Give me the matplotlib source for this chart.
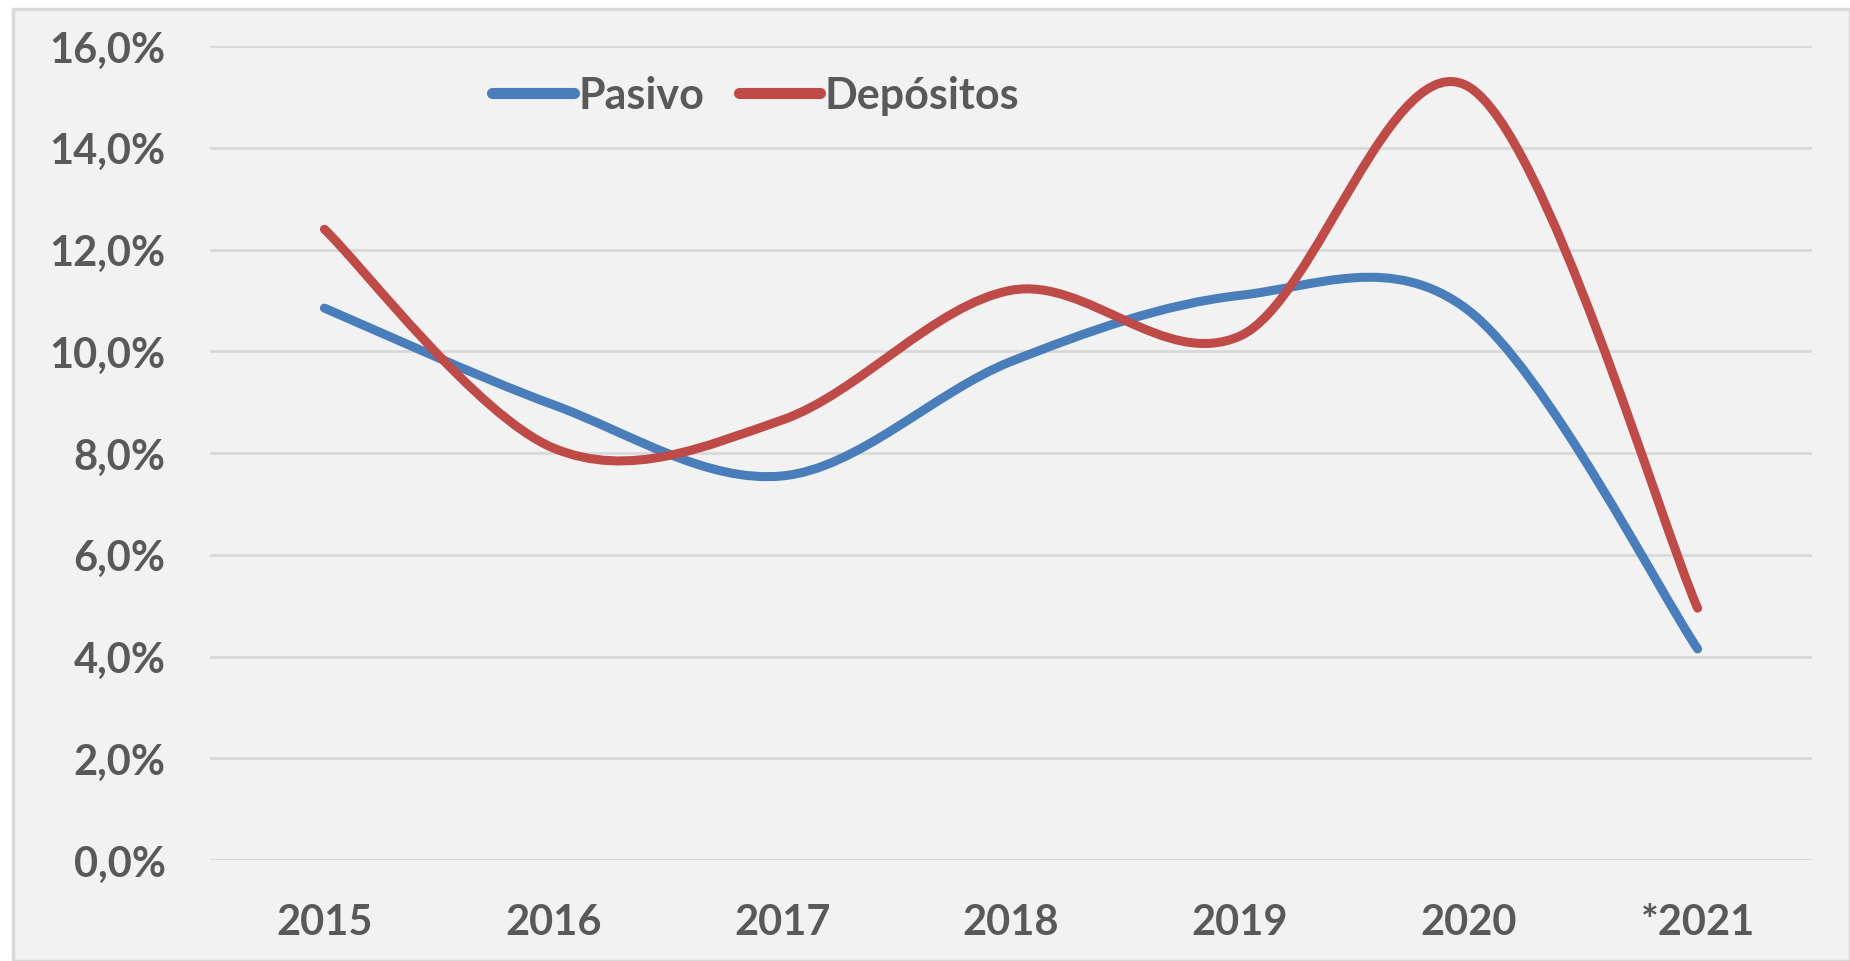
import numpy as np
import matplotlib.pyplot as plt
from matplotlib.path import Path
from matplotlib.patches import PathPatch, Rectangle
from matplotlib.lines import Line2D

years = ['2015', '2016', '2017', '2018', '2019', '2020', '*2021']
pasivo = [10.85, 8.95, 7.55, 9.8, 11.1, 10.8, 4.15]
depositos = [12.4, 8.1, 8.65, 11.2, 10.3, 15.2, 4.95]

plt.rcParams['font.family'] = ['Lato', 'DejaVu Sans']

text_color = '#595959'
blue = '#4a7ebb'
red = '#be4b48'


def smooth_path(xs, ys):
    # Excel-style smoothed line: cubic Bezier through every point
    pts = np.column_stack([xs, ys])
    verts = [pts[0]]
    codes = [Path.MOVETO]
    n = len(pts)
    for i in range(n - 1):
        p0 = pts[max(i - 1, 0)]
        p1 = pts[i]
        p2 = pts[i + 1]
        p3 = pts[min(i + 2, n - 1)]
        c1 = p1 + (p2 - p0) / 6.0
        c2 = p2 - (p3 - p1) / 6.0
        verts += [c1, c2, p2]
        codes += [Path.CURVE4] * 3
    return Path(verts, codes)


fig = plt.figure(figsize=(18.5, 9.62), dpi=100)
fig.patches.append(Rectangle((0.007, 0), 0.993, 0.99, transform=fig.transFigure,
                             facecolor='#f2f2f2', edgecolor='#d9d9d9', lw=2.5,
                             zorder=-10))
ax = fig.add_axes([0.1135, 0.105, 0.866, 0.846])
ax.set_facecolor('none')

x = np.arange(len(years))
for vals, col in [(pasivo, blue), (depositos, red)]:
    ax.add_patch(PathPatch(smooth_path(x, vals), facecolor='none', edgecolor=col,
                           lw=6.5, capstyle='round', joinstyle='round'))

ax.set_xlim(-0.5, len(years) - 0.5)
ax.set_ylim(0, 16)
ax.set_yticks(np.arange(0, 17, 2))
ax.set_yticklabels([f'{v:.1f}%'.replace('.', ',') for v in np.arange(0, 17, 2)])
ax.set_xticks(x)
ax.set_xticklabels(years)
ax.grid(axis='y', color='#d9d9d9', lw=2)
ax.set_axisbelow(True)
for s in ax.spines.values():
    s.set_visible(False)
ax.tick_params(length=0, labelsize=30, labelcolor=text_color)
ax.tick_params(axis='y', pad=32)
ax.tick_params(axis='x', pad=31)
for t in ax.get_xticklabels() + ax.get_yticklabels():
    t.set_fontweight('bold')

handles = [Line2D([], [], color=blue, lw=8, solid_capstyle='round'),
           Line2D([], [], color=red, lw=8, solid_capstyle='round')]
leg = ax.legend(handles, ['Pasivo', 'Depósitos'], loc='center left',
                bbox_to_anchor=(0.152, 0.94), ncol=2, frameon=False,
                handlelength=1.9, handletextpad=0.1, columnspacing=0.8,
                prop={'size': 31, 'weight': 'bold'})
for t in leg.get_texts():
    t.set_color(text_color)

fig.savefig('out.png', dpi=100)
